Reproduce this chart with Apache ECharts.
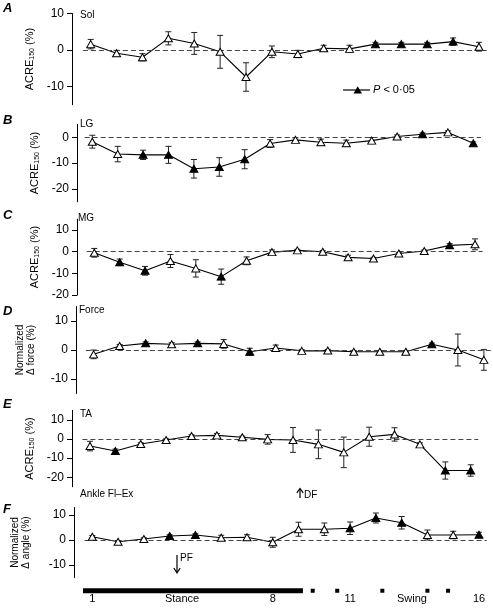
<!DOCTYPE html>
<html><head><meta charset="utf-8">
<script src="https://cdn.jsdelivr.net/npm/echarts@6/dist/echarts.min.js"></script>
<style>html,body{margin:0;padding:0;background:#fff}#c{width:493px;height:612px}</style>
</head><body><div id="c"></div>
<script>
// ---- data ----
const steps = [1,2,3,4,5,6,7,8,9,10,11,12,13,14,15,16];

const solMean = [1.6,-0.9,-2.0,3.2,1.8,-0.5,-7.4,-0.5,-1.1,0.5,0.3,1.6,1.6,1.6,2.3,0.9];
const solErr  = [1.3,0.8,1.0,1.8,3.0,4.5,3.9,1.6,1.0,0.8,1.0,0.5,0.5,0.5,1.0,1.2];
const solSig  = [0,0,0,0,0,0,0,0,0,0,0,1,1,1,1,0];

const lgMean = [-1.7,-6.5,-6.8,-6.8,-12.2,-11.5,-8.5,-2.4,-1.0,-1.9,-2.3,-1.3,0.3,1.2,1.9,-2.3];
const lgErr  = [2.5,3.0,1.8,3.3,3.6,3.6,3.7,1.5,0.8,1.2,1.2,1.2,0.6,0.5,0.6,0.5];
const lgSig  = [0,0,1,1,1,1,1,0,0,0,0,0,0,1,0,1];

const mgMean = [-0.5,-4.9,-8.8,-4.3,-7.7,-11.5,-4.2,-0.2,0.6,0.0,-2.6,-3.1,-0.8,0.3,2.9,3.4];
const mgErr  = [2.0,1.5,2.0,3.0,4.0,3.5,1.8,1.0,0.5,0.5,1.0,0.5,0.5,0.5,0.8,2.5];
const mgSig  = [0,1,1,0,0,1,0,0,0,0,0,0,0,0,1,0];

const forceMean = [-1.5,1.4,2.3,2.0,2.3,2.1,-0.6,0.7,-0.3,-0.2,-0.6,-0.6,-0.6,2.0,0.0,-3.4];
const forceErr  = [1.5,0.5,0.5,0.5,0.5,1.5,1.2,1.0,0.4,0.4,0.4,0.4,0.4,0.4,5.5,3.6];
const forceSig  = [0,0,1,0,1,0,1,0,0,0,0,0,0,1,0,0];

const taMean = [-3.7,-6.3,-2.6,-0.5,1.6,1.9,0.9,-0.2,-0.5,-2.8,-7.0,1.2,2.4,-2.8,-16.5,-16.5];
const taErr  = [2.5,1.0,0.6,0.6,0.6,1.0,0.6,2.5,6.5,7.5,8.0,5.0,3.5,0.8,4.5,3.0];
const taSig  = [0,1,0,0,0,0,0,0,0,0,0,0,0,0,1,1];

const angMean = [1.3,-0.7,0.4,1.6,2.0,0.9,1.1,-0.9,4.3,4.3,4.7,8.8,6.9,2.0,2.0,2.1];
const angErr  = [0.5,0.5,0.5,0.5,0.5,1.0,1.0,2.0,2.8,2.5,2.5,2.0,2.5,2.0,1.5,1.0];
const angSig  = [0,0,0,1,1,0,0,0,0,0,1,1,1,0,0,1];

const xTickLabels = [1,8,11,16];
const stanceSpan = [0.64, 9.17];
const swingMarks = [9.55, 10.5, 12.25, 14.0, 14.8];
const zeroSpan = [0.7, 16.3];

// ---- layout ----
const FONT = '"Liberation Sans", Arial, sans-serif';
const acre = '{a|ACRE}{s|150}{a| (%)}';
const panels = [
  {mean:solMean, err:solErr, sig:solSig, axisX:72, pt1:90.7, pt16:479, y0:50, ppu:3.65, ymin:-15, ymax:10, ticks:[10,0,-10], name:acre, gap:31},
  {mean:lgMean, err:lgErr, sig:lgSig, axisX:77, pt1:92.3, pt16:473.3, y0:137.3, ppu:2.58, ymin:-25, ymax:5, ticks:[0,-10,-20], name:acre, gap:36},
  {mean:mgMean, err:mgErr, sig:mgSig, axisX:77, pt1:94.3, pt16:475, y0:251.7, ppu:2.17, ymin:-20, ymax:15, ticks:[10,0,-10,-20], name:acre, gap:36},
  {mean:forceMean, err:forceErr, sig:forceSig, axisX:76, pt1:93.7, pt16:485.7, y0:350, ppu:2.9, ymin:-15, ymax:15, ticks:[10,0,-10], name:'Normalized\n\u0394 force (%)', gap:39},
  {mean:taMean, err:taErr, sig:taSig, axisX:72, pt1:90, pt16:470.7, y0:439, ppu:1.91, ymin:-25, ymax:15, ticks:[10,0,-10,-20], name:acre, gap:34},
  {mean:angMean, err:angErr, sig:angSig, axisX:74, pt1:92.3, pt16:479, y0:540, ppu:2.5, ymin:-15, ymax:13, ticks:[10,0,-10], name:'Normalized\n\u0394 angle (%)', gap:42}
];

const grids = [], xAxes = [], yAxes = [], series = [];

function errRender(params, api){
  const x = api.value(0), m = api.value(1), e = api.value(2);
  const hi = api.coord([x, m+e]), lo = api.coord([x, m-e]);
  const w = 3, st = {stroke:'#222', lineWidth:1};
  return {type:'group', children:[
    {type:'line', shape:{x1:hi[0],y1:hi[1],x2:lo[0],y2:lo[1]}, style:st},
    {type:'line', shape:{x1:hi[0]-w,y1:hi[1],x2:hi[0]+w,y2:hi[1]}, style:st},
    {type:'line', shape:{x1:lo[0]-w,y1:lo[1],x2:lo[0]+w,y2:lo[1]}, style:st}
  ]};
}

panels.forEach((p, i) => {
  const sp = (p.pt16 - p.pt1) / 15;
  const xmin = 1 - (p.pt1 - p.axisX) / sp;
  const xmax = 16.35;
  grids.push({left:p.axisX, width:(xmax - xmin) * sp, top:p.y0 - p.ymax * p.ppu, height:(p.ymax - p.ymin) * p.ppu, containLabel:false});
  const isLast = i === panels.length - 1;
  xAxes.push({gridIndex:i, type:'value', min:xmin, max:xmax, show:isLast,
    axisLine:{show:false}, axisTick:{show:false}, splitLine:{show:false},
    axisLabel:{show:isLast, customValues:xTickLabels, margin:16, fontSize:11, color:'#000', fontFamily:FONT}});
  const multi = p.name.indexOf('\n') >= 0;
  yAxes.push({gridIndex:i, type:'value', min:p.ymin, max:p.ymax,
    axisLine:{show:true, lineStyle:{color:'#000', width:1}},
    axisTick:{show:true, length:5, customValues:p.ticks, lineStyle:{color:'#000'}},
    axisLabel:{customValues:p.ticks, fontSize:12, color:'#000', margin:8, fontFamily:FONT},
    splitLine:{show:false},
    name:p.name, nameLocation:'middle', nameRotate:90, nameGap:p.gap,
    nameTextStyle: multi ? {fontSize:10, lineHeight:11, color:'#000', fontFamily:FONT, align:'center'}
      : {color:'#000', fontFamily:FONT, rich:{a:{fontSize:11, color:'#000', fontFamily:FONT}, s:{fontSize:7, color:'#000', fontFamily:FONT, padding:[4,0,0,0]}}}
  });
  const pts = steps.map((s, k) => [s, p.mean[k]]);
  series.push({type:'line', xAxisIndex:i, yAxisIndex:i, data:pts, symbol:'none', z:3,
    lineStyle:{color:'#000', width:1.1}, silent:true, animation:false,
    markLine:{silent:true, symbol:'none', label:{show:false}, animation:false,
      lineStyle:{type:[5,3], color:'#444', width:1},
      data:[[{coord:[zeroSpan[0],0]},{coord:[zeroSpan[1],0]}]]}});
  series.push({type:'custom', xAxisIndex:i, yAxisIndex:i, renderItem:errRender, z:4,
    encode:{x:0, y:1}, data:steps.map((s, k) => [s, p.mean[k], p.err[k]]), silent:true, animation:false});
  series.push({type:'scatter', xAxisIndex:i, yAxisIndex:i, symbol:'triangle', symbolSize:[8,7], z:5,
    itemStyle:{color:'#fff', borderColor:'#000', borderWidth:1, opacity:1},
    data:steps.filter((s, k) => !p.sig[k]).map(s => [s, p.mean[s-1]]), silent:true, animation:false});
  series.push({type:'scatter', xAxisIndex:i, yAxisIndex:i, symbol:'triangle', symbolSize:[8,7], z:6,
    itemStyle:{color:'#000', borderColor:'#000', borderWidth:1, opacity:1},
    data:steps.filter((s, k) => p.sig[k]).map(s => [s, p.mean[s-1]]), silent:true, animation:false});
});

// stance / swing bar under panel F
const barLevel = -20.3;
series.push({type:'custom', xAxisIndex:5, yAxisIndex:5, silent:true, animation:false, clip:false,
  data:[[stanceSpan[0], stanceSpan[1]]], encode:{x:[0,1]},
  renderItem:(params, api) => {
    const a = api.coord([api.value(0), barLevel]), b = api.coord([api.value(1), barLevel]);
    return {type:'rect', shape:{x:a[0], y:a[1]-2.5, width:b[0]-a[0], height:5}, style:{fill:'#000'}};
  }});
series.push({type:'custom', xAxisIndex:5, yAxisIndex:5, silent:true, animation:false, clip:false,
  data:swingMarks.map(v => [v]), encode:{x:0},
  renderItem:(params, api) => {
    const a = api.coord([api.value(0), barLevel]);
    return {type:'rect', shape:{x:a[0]-2, y:a[1]-2, width:4, height:4}, style:{fill:'#000'}};
  }});

function txt(t, x, y, font, extra){
  return Object.assign({type:'text', silent:true, style:{text:t, x:x, y:y, font:font, fill:'#000', verticalAlign:'middle', align:'left'}}, extra||{});
}
const letterFont = 'italic bold 13px ' + FONT;
const titleFont = '10px ' + FONT;
const graphics = [
  txt('A', 3, 8, letterFont), txt('B', 3, 120, letterFont), txt('C', 3, 215, letterFont),
  txt('D', 3, 311, letterFont), txt('E', 3, 404, letterFont), txt('F', 3, 509, letterFont),
  txt('Sol', 80, 15.5, titleFont), txt('LG', 80, 124, titleFont), txt('MG', 78, 218, titleFont),
  txt('Force', 79, 310.5, titleFont), txt('TA', 80, 414.5, titleFont), txt('Ankle Fl\u2013Ex', 80, 494, titleFont),
  {type:'line', silent:true, shape:{x1:343, y1:90, x2:370, y2:90}, style:{stroke:'#000', lineWidth:1.2}},
  {type:'polygon', silent:true, shape:{points:[[353.5,93.5],[362,93.5],[357.7,86.3]]}, style:{fill:'#000'}},
  {type:'text', silent:true, style:{text:'{i|P}{n| < 0\u00b705}', x:373, y:90, verticalAlign:'middle',
    rich:{i:{fontStyle:'italic', fontSize:11, fontFamily:FONT, fill:'#000'}, n:{fontSize:11, fontFamily:FONT, fill:'#000'}}}},
  // PF arrow
  {type:'line', silent:true, shape:{x1:177, y1:555, x2:177, y2:572}, style:{stroke:'#000', lineWidth:1.2}},
  {type:'polyline', silent:true, shape:{points:[[173.8,568],[177,572.8],[180.2,568]]}, style:{stroke:'#000', lineWidth:1.2}},
  txt('PF', 180, 558, titleFont),
  // DF arrow
  {type:'line', silent:true, shape:{x1:300, y1:489, x2:300, y2:498}, style:{stroke:'#000', lineWidth:1.2}},
  {type:'polyline', silent:true, shape:{points:[[296.8,492.8],[300,488.5],[303.2,492.8]]}, style:{stroke:'#000', lineWidth:1.2}},
  txt('DF', 304, 495, titleFont),
  txt('Stance', 182, 599, '11px ' + FONT, {}),
  txt('Swing', 412, 599, '11px ' + FONT, {})
];
graphics[graphics.length-2].style.align = 'center';
graphics[graphics.length-1].style.align = 'center';

const chart = echarts.init(document.getElementById('c'), null, {renderer:'canvas'});
chart.setOption({
  backgroundColor:'#fff', animation:false,
  grid:grids, xAxis:xAxes, yAxis:yAxes, series:series, graphic:graphics
});
</script></body></html>
